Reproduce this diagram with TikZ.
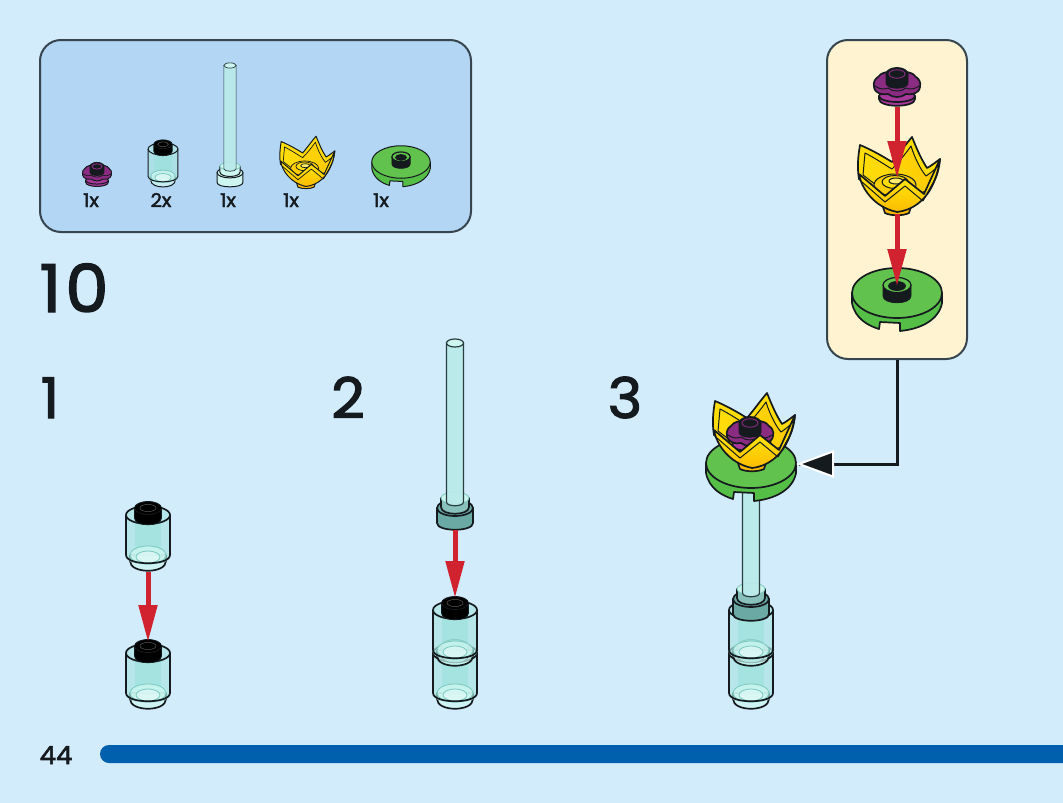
\documentclass[tikz,border=0pt]{standalone}
\usepackage{fontspec}
\setmainfont{Poppins}[FakeBold=2.2,FakeStretch=1.04]
\usetikzlibrary{arrows.meta}
\definecolor{bgc}{HTML}{D3ECFC}
\definecolor{partsc}{HTML}{B2D6F4}
\definecolor{calloutc}{HTML}{FFF3D1}
\definecolor{framec}{HTML}{37454F}
\definecolor{redc}{HTML}{D0222F}
\definecolor{barc}{HTML}{0060AD}
\definecolor{glass}{HTML}{ABE4E2}
\definecolor{shaftc}{HTML}{B9EAEA}
\definecolor{glassb}{HTML}{98E2D9}
\definecolor{glassl}{HTML}{CDF6F1}
\definecolor{glassl2}{HTML}{7CC9C0}
\definecolor{glassd}{HTML}{6BA9A5}
\definecolor{ink}{HTML}{151A1E}
\definecolor{plateg}{HTML}{62C24E}
\definecolor{plated}{HTML}{55BE47}
\definecolor{yel}{HTML}{FFDD0A}
\definecolor{gold}{HTML}{FBBB00}
\definecolor{magA}{HTML}{A8389A}
\definecolor{magB}{HTML}{8A2C82}
\definecolor{magC}{HTML}{6E2066}
\tikzset{
  ol/.style={draw=ink,line width=1.7pt,line join=round},
  thinl/.style={draw=ink,line width=1pt,line join=round},
  shaftl/.style={draw=ink!80!glassl2,line width=1.2pt},
  fine/.style={draw=glassl2,line width=.8pt},
  framebox/.style={draw=framec,line width=2pt,rounded corners=21pt,inner sep=0pt},
  digit/.style={text=ink,inner sep=0pt,anchor=base},
  qty/.style={digit,font=\fontsize{19}{19}\selectfont},
  stepnum/.style={digit,font=\fontsize{56}{56}\selectfont},
  redarrow/.style={draw=redc,fill=redc,line width=5pt,-{Triangle[length=37pt,width=18pt]}},
  small/.style={ol/.append style={line width=1pt},thinl/.append style={line width=.7pt},shaftl/.append style={line width=.7pt}}
}
% brick: x, y, scale, stud colour
\newcommand\brick[4]{\begin{scope}[shift={(#1,#2)},scale=#3]
  \path[ol,fill=glassl,fill opacity=.7] (-18,18) -- (-18,24) .. controls (-18,37) and (18,37) .. (18,24) -- (18,18) -- cycle;
  \fill[glass,opacity=.7] (-22,-22) -- (-22,20) .. controls (-22,30) and (22,30) .. (22,20) -- (22,-22) .. controls (22,-34) and (-22,-34) .. (-22,-22) -- cycle;
  \fill[glassb,opacity=.6] (-13,-16) rectangle (13,20);
  \path[fine,fill=glassl,fill opacity=.8] (0,18) ellipse [x radius=18,y radius=9];
  \path[fine,fill=white,fill opacity=.35] (0,20) ellipse [x radius=12,y radius=6];
  \path[ol] (-22,-22) -- (-22,18) .. controls (-22,29) and (22,29) .. (22,18) -- (22,-22);
  \path[ol] (0,-22) ellipse [x radius=22,y radius=9];
  \path[draw=ink,line width=.8pt,fill=#4] (-13.5,-29) -- (-13.5,-19) .. controls (-13.5,-10) and (13.5,-10) .. (13.5,-19) -- (13.5,-29) -- cycle;
  \path[draw=ink,line width=.8pt,fill=#4] (0,-29) ellipse [x radius=13.5,y radius=6.5];
  \path[draw=gray!70!black,line width=.5pt] (0,-29) ellipse [x radius=8,y radius=3.6];
\end{scope}}
% antenna: x, y, xscale, yscale, base colour
\newcommand\antenna[5]{\begin{scope}[shift={(#1,#2)},xscale=#3,yscale=#4]
  \path[ol,fill=#5] (-18,-2) -- (-18,13) .. controls (-18,22) and (18,22) .. (18,13) -- (18,-2) -- cycle;
  \path[ol,fill=#5] (0,-2) ellipse [x radius=18,y radius=8];
  \path[ol,fill=#5!70!glassl] (-14,-12) -- (-14,-3) .. controls (-14,6) and (14,6) .. (14,-3) -- (14,-12) -- cycle;
  \path[fine,fill=glassl] (0,-12) ellipse [x radius=14,y radius=6];
  \path[shaftl,fill=shaftc,fill opacity=.9] (-8.5,-167) -- (-8.5,-8) .. controls (-8.5,-3) and (8.5,-3) .. (8.5,-8) -- (8.5,-167) -- cycle;
  \path[shaftl,fill=glassl] (0,-167) ellipse [x radius=8.5,y radius=4];
\end{scope}}
% magenta round plate with petals
\newcommand\flower[3]{\begin{scope}[shift={(#1,#2)},scale=#3]
  \path[ol,fill=magA] (-18,10) -- (-18,13) .. controls (-18,22) and (18,22) .. (18,13) -- (18,10) -- cycle;
  \path[ol,fill=magA] (0,10) ellipse [x radius=18,y radius=6];
  \path[ol,fill=magB] (-23,1) .. controls (-24,-4) and (-22,-7) .. (-19,-9) .. controls (-15,-17) and (15,-17) .. (19,-9) .. controls (22,-7) and (24,-4) .. (23,1) .. controls (22,8) and (14,9) .. (9,8) .. controls (4,12) and (-4,12) .. (-9,8) .. controls (-14,9) and (-22,8) .. (-23,1) -- cycle;
  \path[thinl] (-22,0) .. controls (-18,3) and (-13,4) .. (-9,2) .. controls (-4,6) and (4,6) .. (9,2) .. controls (13,4) and (18,3) .. (22,0);
  \path[draw=ink,fill=ink,line width=.8pt] (-11,-12) -- (-11,-3) .. controls (-11,4) and (11,4) .. (11,-3) -- (11,-12) -- cycle;
  \path[draw=ink,fill=ink,line width=.8pt] (0,-12) ellipse [x radius=11,y radius=6.5];
  \path[draw=magB,line width=.9pt] (0,-12) ellipse [x radius=8,y radius=4.2];
\end{scope}}
% green round tile with notch
\newcommand\tile[3]{\begin{scope}[shift={(#1,#2)},scale=#3]
  \path[ol,fill=plated] (-45,0) -- (-45,10) .. controls (-42,26) and (-28,33) .. (-18,36) -- (-17,29) -- (3,30) -- (3,38) .. controls (25,36) and (42,26) .. (45,10) -- (45,0) -- cycle;
  \path[ol,fill=plateg] (0,0) ellipse [x radius=45,y radius=25];
\end{scope}}
\newcommand\tilestud[3]{\begin{scope}[shift={(#1,#2)},scale=#3]
  \path[draw=ink,fill=ink,line width=.8pt] (-14,-8) -- (-14,3) .. controls (-14,12) and (14,12) .. (14,3) -- (14,-8) -- cycle;
  \path[draw=ink,fill=plateg,line width=1.2pt] (0,-8) ellipse [x radius=14,y radius=7.5];
  \path[draw=ink,fill=ink,line width=.8pt] (0,-7) ellipse [x radius=8.5,y radius=4.5];
\end{scope}}
% yellow crown: back part
\newcommand\crownback[3]{\begin{scope}[shift={(#1,#2)},scale=#3]
  \path[ol,fill=yel] (-37,-32) .. controls (-25,-27) and (-13,-20) .. (-5,-15) .. controls (1,-22) and (9,-33) .. (15,-40) .. controls (19,-30) and (24,-18) .. (30,-9) .. controls (34,-11) and (39,-15) .. (43,-18) .. controls (42,-8) and (40,0) .. (35,8) -- (0,30) -- (-38,2) .. controls (-40,-10) and (-39,-20) .. (-37,-32) -- cycle;
  \path[thinl,left color=yel,right color=yel!45!gold] (-32,-24) .. controls (-22,-19) and (-12,-12) .. (-5,-8) .. controls (2,-15) and (9,-24) .. (14,-31) .. controls (17,-21) and (23,-8) .. (29,-1) .. controls (32,-3) and (36,-6) .. (38,-8) .. controls (36,2) and (33,8) .. (29,14) -- (0,24) -- (-34,-2) -- cycle;
  \path[thinl,fill=yel!55!gold] (-2,8) ellipse [x radius=21,y radius=11];
  \path[thinl,fill=yel] (-2,5) ellipse [x radius=13,y radius=6.5];
  \path[thinl,fill=yel!60!white] (-1,4) ellipse [x radius=7,y radius=3];
\end{scope}}
% yellow crown: front flap and bowl
\newcommand\crownfront[3]{\begin{scope}[shift={(#1,#2)},scale=#3]
  \path[ol,fill=gold] (-14,30) -- (-12,36) .. controls (-6,39) and (6,39) .. (12,36) -- (14,30) -- cycle;
  \path[ol,top color=yel,bottom color=gold,middle color=yel] (-38,-3) .. controls (-36,10) and (-24,30) .. (0,35) .. controls (18,33) and (32,20) .. (38,2) .. controls (40,-3) and (42,-10) .. (43,-18) -- (27,17) -- (8,2) -- (-12,19) -- cycle;
  \path[thinl] (-35,5) -- (-12,25) -- (8,9) -- (26,24);
  \path[thinl] (26,24) -- (38,2);
\end{scope}}
\begin{document}
\begin{tikzpicture}[x=1pt,y=-1pt]
\useasboundingbox (0,0) rectangle (1063,803);
\fill[bgc] (0,0) rectangle (1063,803);
% blue bar
\fill[barc,rounded corners=9pt] (100,745) rectangle (1090,763);
\fill[bgc] (1063,740) rectangle (1090,770);
\node[digit,font=\fontsize{25}{25}\selectfont] (page) at (56,764) {44};
% frames
\node[framebox,fill=partsc,minimum width=431pt,minimum height=192pt] (parts) at (255.5,136) {};
\node[framebox,fill=calloutc,minimum width=140pt,minimum height=319pt] (callout) at (897,199.5) {};
% parts list
\begin{scope}[small]
\flower{97}{174}{.63}
\brick{163}{164}{.68}{black}
\antenna{230}{174}{.72}{.65}{glassl}
\crownback{306}{163}{.67}
\crownfront{306}{163}{.67}
\tile{401}{162}{.65}
\tilestud{401}{162}{.65}
\end{scope}
\node[qty] (q1) at (91,207) {1x};
\node[qty] (q2) at (161,207) {2x};
\node[qty] (q3) at (228,207) {1x};
\node[qty] (q4) at (291,207) {1x};
\node[qty] (q5) at (381,207) {1x};
% step numbers
\node[digit,font=\fontsize{66}{66}\selectfont] (big) at (74,312) {1\kern4pt 0};
\node[stepnum] (s1) at (50,418) {1};
\node[stepnum] (s2) at (348,418) {2};
\node[stepnum] (s3) at (625,418) {3};
% callout content
\flower{897}{86}{1}
\crownback{897}{177}{1}
\crownfront{897}{177}{1}
\tile{897}{293}{1}
\tilestud{897}{293}{1}
\coordinate (a1) at (897,107);
\coordinate (a1e) at (897,178);
\coordinate (a2) at (897,214);
\coordinate (a2e) at (897,286);
\draw[redarrow] (a1) -- (a1e);
\draw[redarrow] (a2) -- (a2e);
% step 1
\brick{148}{675}{1}{black}
\brick{148}{537}{1}{black}
\coordinate (b1) at (148,572);
\coordinate (b1e) at (148,642);
\draw[redarrow] (b1) -- (b1e);
% step 2
\brick{455}{675}{1}{glassl2}
\brick{455}{632}{1}{black}
\antenna{455}{510}{1}{1}{glassd}
\coordinate (b2) at (455,530);
\coordinate (b2e) at (455,598);
\draw[redarrow] (b2) -- (b2e);
% step 3
\brick{751}{675}{1}{glassl2}
\brick{751}{632}{1}{glassd}
\antenna{751}{601}{1}{1}{glassd}
\tile{751}{463}{1}
\crownback{752}{433}{1}
\flower{750}{435}{1}
\crownfront{752}{433}{1}
\coordinate (target) at (799,464);
\coordinate (bend) at (897,464);
\draw[ink,line width=3pt] (callout.south) -- (bend) -- (target);
\path[draw=white,line width=2pt,fill=ink,line join=miter] (target) -- ++(34,-12.5) -- ++(0,25) -- cycle;
\end{tikzpicture}
\end{document}
